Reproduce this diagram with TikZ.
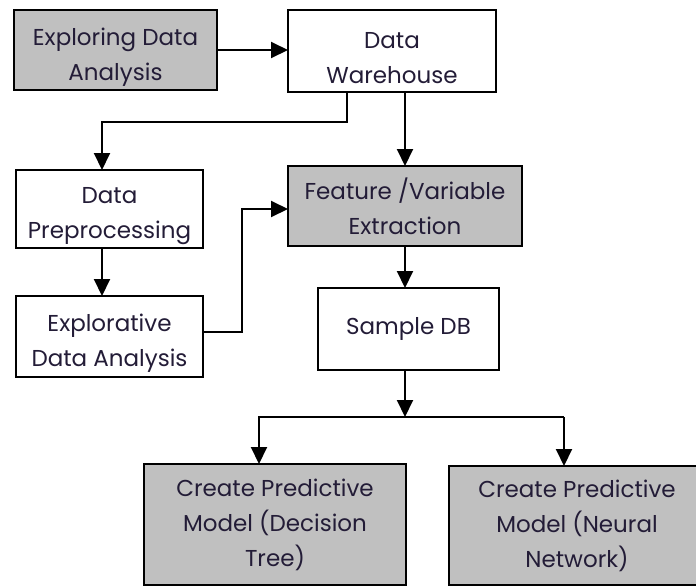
\documentclass[tikz,border=0pt]{standalone}
\usepackage{fontspec}
\setmainfont{Poppins}
\usetikzlibrary{arrows.meta}
\definecolor{boxgray}{RGB}{192,192,192}
\definecolor{txt}{RGB}{35,28,55}
\newcommand\lowstrut{\rule{0pt}{31pt}}
\begin{document}
\begin{tikzpicture}[x=1pt,y=-1pt,
  box/.style={draw=black, line width=2pt, inner sep=0pt, outer sep=0pt, align=center,
    font=\fontsize{23}{35}\selectfont, text=txt},
  graybox/.style={box, fill=boxgray},
  whitebox/.style={box, fill=white},
  arr/.style={line width=2pt, -{Triangle[length=17pt,width=16pt]}}]
\clip (0,0) rectangle (696,587);
\fill[white] (0,0) rectangle (696,587);
% boxes
\node[graybox, minimum width=203pt, minimum height=80pt] (expl) at (115.5,50) {\lowstrut Exploring Data\\Analysis};
\node[whitebox, minimum width=208pt, minimum height=82pt] (dw) at (392,51) {\lowstrut Data\\Warehouse};
\node[whitebox, minimum width=187pt, minimum height=78pt] (prep) at (109.5,209) {\lowstrut Data\\Preprocessing};
\node[whitebox, minimum width=187pt, minimum height=81pt] (eda) at (109.5,336.5) {\lowstrut Explorative\\Data Analysis};
\node[graybox, minimum width=234pt, minimum height=80pt] (feat) at (405,206) {Feature /Variable\\Extraction};
\node[whitebox, minimum width=181pt, minimum height=82pt] (sdb) at (408.5,329) {Sample DB};
\node[graybox, minimum width=262pt, minimum height=121pt] (dt) at (275,524.5) {Create Predictive\\Model (Decision\\Tree)};
\node[graybox, minimum width=256pt, minimum height=119pt] (nn) at (577,525.5) {Create Predictive\\Model (Neural\\Network)};
% junctions
\coordinate (j1) at (347,122);
\coordinate (j2) at (102,122);
\coordinate (j3) at (242,209);
\coordinate (j4) at (242,332);
\coordinate (j5) at (405,417);
\coordinate (j6) at (259,417);
\coordinate (j7) at (564,417);
% connectors
\draw[arr] (expl.east) -- (expl.east -| dw.west);
\draw[arr] (dw.south -| j1) -- (j1) -- (j2) -- (j2 |- prep.north);
\draw[arr] (dw.south -| feat.north) -- (feat.north);
\draw[arr] (prep.south -| j2) -- (eda.north -| j2);
\draw[arr] (eda.east |- j4) -- (j4) -- (j3) -- (j3 -| feat.west);
\draw[arr] (feat.south) -- (feat.south |- sdb.north);
\draw[arr] (sdb.south -| j5) -- (j5);
\draw[arr] (j7) -- (j6) -- (j6 |- dt.north);
\draw[arr] (j7) -- (j7 |- nn.north);
\end{tikzpicture}
\end{document}
